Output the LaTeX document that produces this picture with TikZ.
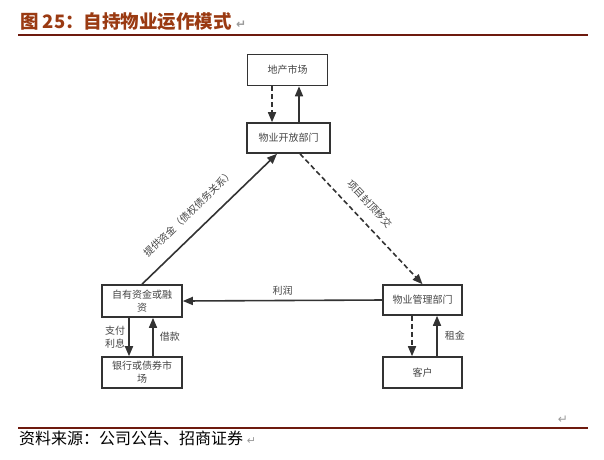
\documentclass[tikz,border=0pt]{standalone}
\usepackage{fontspec}
\setmainfont{Noto Sans CJK SC}
\newfontfamily\symfont{DejaVu Sans}
\usepackage{tikz}
\usetikzlibrary{arrows.meta,positioning,calc}
\definecolor{rptred}{HTML}{9A3A12}
\definecolor{rptrule}{HTML}{6E1A0E}
\definecolor{boxline}{HTML}{333333}
\definecolor{boxtext}{HTML}{444444}
\definecolor{markgray}{HTML}{9A9A9A}

\begin{document}
\begin{tikzpicture}[
    x=1pt, y=-1pt,
    flowbox/.style={draw=boxline, line width=1.6pt, minimum width=80pt, minimum height=31pt, inner sep=2pt, align=center, text=boxtext, font=\fontsize{10}{13}\selectfont},
    arrow/.style={-{Triangle[length=10pt,width=8pt]}, line width=1.6pt, color=boxline},
    dasharrow/.style={arrow, dash pattern=on 5pt off 3pt},
    tag/.style={text=boxtext, font=\fontsize{10}{12.5}\selectfont, inner sep=2pt, align=center},
]
    \useasboundingbox (0,0) rectangle (604,459);

    % title and rules
    \node[anchor=base west, inner sep=0pt, text=rptred, font=\fontsize{18.5}{20}\selectfont\bfseries] (title) at (20,28) {图 25：自持物业运作模式 {\symfont\color{markgray}\fontsize{12}{12}\selectfont ↵}};
    \draw[rptrule, line width=1.5pt] (18,35) -- (588,35);
    \node[inner sep=0pt, text=markgray, font=\symfont\fontsize{12}{12}\selectfont] (endmark) at (563,420) {↵};
    \draw[rptrule, line width=1.2pt] (18,428) -- (588,428);
    \node[anchor=base west, inner sep=0pt, font=\fontsize{16}{18}\selectfont] (source) at (19,444) {资料来源：公司公告、招商证券 {\symfont\color{markgray}\fontsize{11}{11}\selectfont ↵}};

    % boxes
    \node[flowbox] (mkt) at (287.5,70) {地产市场};
    \node[flowbox, minimum width=83pt, minimum height=30pt] (dev) at (288.5,138) {物业开放部门};
    \node[flowbox, minimum height=32pt] (fund) at (142,301) {自有资金或融\\资};
    \node[flowbox] (bank) at (142,372.5) {银行或债券市\\场};
    \node[flowbox, minimum width=79pt, minimum height=30pt] (mgmt) at (422.5,300) {物业管理部门};
    \node[flowbox, minimum width=79pt] (cust) at (422.5,372.5) {客户};

    % vertical pairs
    \draw[dasharrow] ([xshift=-15.5pt]mkt.south) -- ([xshift=-15.5pt]mkt.south |- dev.north);
    \draw[arrow] ([xshift=11.5pt]mkt.south |- dev.north) -- ([xshift=11.5pt]mkt.south);

    \draw[arrow] ([xshift=-13pt]fund.south) -- node[tag, left, xshift=-1pt] {支付\\利息} ([xshift=-13pt]fund.south |- bank.north);
    \draw[arrow] ([xshift=11pt]fund.south |- bank.north) -- node[tag, right, xshift=4pt] {借款} ([xshift=11pt]fund.south);

    \draw[dasharrow] ([xshift=-10.5pt]mgmt.south) -- ([xshift=-10.5pt]mgmt.south |- cust.north);
    \draw[arrow] ([xshift=14.5pt]mgmt.south |- cust.north) -- node[tag, right, xshift=5pt] {租金} ([xshift=14.5pt]mgmt.south);

    % triangle
    \draw[arrow] (fund.north) -- node[tag, sloped, above=11pt, pos=0.44] {提供资金（债权债务关系）} ([xshift=-11.5pt]dev.south);
    \draw[dasharrow] ([xshift=11.5pt]dev.south) -- node[tag, sloped, above=9pt, pos=0.47] {项目封顶移交} (mgmt.north);
    \draw[arrow] (mgmt.west) -- node[tag, above=2pt] {利润} (fund.east);
\end{tikzpicture}
\end{document}
